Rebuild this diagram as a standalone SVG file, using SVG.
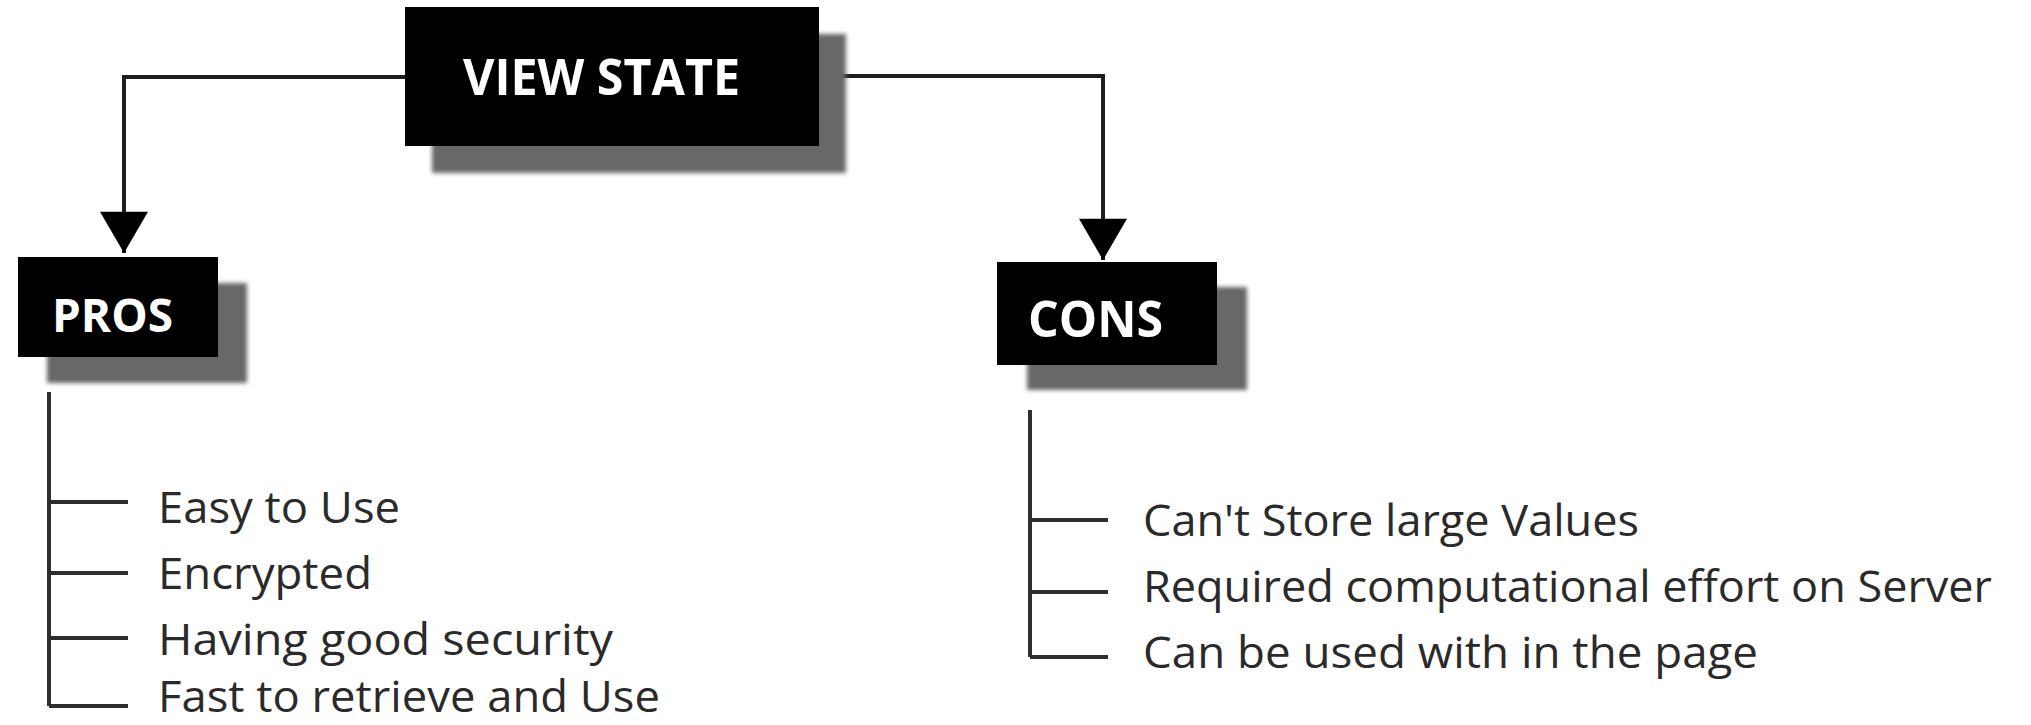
<svg xmlns="http://www.w3.org/2000/svg" width="2031" height="725" viewBox="0 0 2031 725">
<style>
.box{fill:#000}
.shadow{fill:#676767;filter:url(#blur)}
.title{font-family:"Open Sans","Liberation Sans",sans-serif;font-weight:bold;fill:#fff}
.item{font-family:"Open Sans","Liberation Sans",sans-serif;font-size:44px;fill:#2a2a2a}
.conn{fill:none;stroke:#1e1e1e;stroke-width:4}
.tree{fill:none;stroke:#2e2e2e;stroke-width:4}
</style>
<defs>
<filter id="blur" x="-10%" y="-10%" width="120%" height="120%"><feGaussianBlur stdDeviation="2"/></filter>
<marker id="arrow" markerUnits="userSpaceOnUse" markerWidth="56" markerHeight="48" refX="48" refY="28" orient="auto" viewBox="0 0 48 56">
<path d="M0,0 L48,28 L0,56 Z" fill="#000"/>
</marker>
</defs>
<rect width="2031" height="725" fill="#fff"/>
<g id="connectors">
<path class="conn" d="M405,77 H124 V253" marker-end="url(#arrow)"/>
<path class="conn" d="M819,76 H1103 V260" marker-end="url(#arrow)"/>
<path class="tree" d="M49,392 V706 M49,502 H128 M49,573 H128 M49,638 H128 M49,706 H128"/>
<path class="tree" d="M1030,410 V657 M1030,520 H1108 M1030,592 H1108 M1030,657 H1108"/>
</g>
<g id="view-state">
<rect class="shadow" x="432" y="34" width="414" height="139"/>
<rect class="box" x="405" y="7" width="414" height="139"/>
<text class="title" x="463" y="95" font-size="50" textLength="277" lengthAdjust="spacingAndGlyphs">VIEW STATE</text>
</g>
<g id="pros">
<rect class="shadow" x="47" y="283" width="200" height="100"/>
<rect class="box" x="18" y="257" width="200" height="100"/>
<text class="title" x="52" y="332" font-size="47" textLength="121" lengthAdjust="spacingAndGlyphs">PROS</text>
</g>
<g id="cons">
<rect class="shadow" x="1027" y="287" width="220" height="103"/>
<rect class="box" x="997" y="262" width="220" height="103"/>
<text class="title" x="1028" y="337" font-size="50" textLength="135" lengthAdjust="spacingAndGlyphs">CONS</text>
</g>
<g id="pros-items">
<text class="item" x="158" y="523" textLength="242" lengthAdjust="spacingAndGlyphs">Easy to Use</text>
<text class="item" x="158" y="589" textLength="214" lengthAdjust="spacingAndGlyphs">Encrypted</text>
<text class="item" x="158" y="655" textLength="455" lengthAdjust="spacingAndGlyphs">Having good security</text>
<text class="item" x="158" y="712" textLength="502" lengthAdjust="spacingAndGlyphs">Fast to retrieve and Use</text>
</g>
<g id="cons-items">
<text class="item" x="1143" y="536" textLength="496" lengthAdjust="spacingAndGlyphs">Can't Store large Values</text>
<text class="item" x="1143" y="602" textLength="849" lengthAdjust="spacingAndGlyphs">Required computational effort on Server</text>
<text class="item" x="1143" y="668" textLength="615" lengthAdjust="spacingAndGlyphs">Can be used with in the page</text>
</g>
</svg>
